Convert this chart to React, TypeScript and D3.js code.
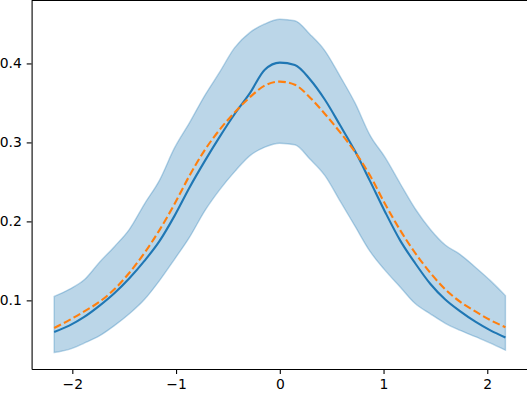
import React, { useEffect, useRef } from 'react';
import * as d3 from 'd3';

// sample positions
const xs = [-2.175, -2.03, -1.885, -1.74, -1.595, -1.45, -1.305, -1.16, -1.015, -0.87, -0.725, -0.58, -0.435, -0.29, -0.145, 0,
  0.145, 0.29, 0.435, 0.58, 0.725, 0.87, 1.015, 1.16, 1.305, 1.45, 1.595, 1.74, 1.885, 2.03, 2.175];

// solid blue mean line
const meanVals = [0.060, 0.068, 0.079, 0.093, 0.109, 0.128, 0.150, 0.175, 0.207, 0.243, 0.276, 0.307, 0.336, 0.362, 0.392, 0.401,
  0.398, 0.380, 0.354, 0.322, 0.289, 0.251, 0.212, 0.176, 0.147, 0.121, 0.101, 0.086, 0.073, 0.062, 0.053];

// dashed orange curve
const refVals = [0.065, 0.075, 0.086, 0.098, 0.114, 0.135, 0.160, 0.189, 0.222, 0.258, 0.290, 0.316, 0.338, 0.357, 0.372, 0.377,
  0.373, 0.357, 0.336, 0.313, 0.288, 0.258, 0.222, 0.189, 0.160, 0.135, 0.114, 0.098, 0.086, 0.075, 0.066];

// shaded band
const upperVals = [0.105, 0.114, 0.126, 0.148, 0.168, 0.190, 0.222, 0.252, 0.293, 0.325, 0.359, 0.389, 0.420, 0.439, 0.450, 0.456,
  0.454, 0.437, 0.416, 0.384, 0.350, 0.309, 0.281, 0.248, 0.216, 0.190, 0.170, 0.158, 0.142, 0.125, 0.106];
const lowerVals = [0.034, 0.038, 0.046, 0.055, 0.068, 0.083, 0.101, 0.125, 0.152, 0.180, 0.213, 0.240, 0.263, 0.283, 0.294, 0.299,
  0.297, 0.279, 0.258, 0.226, 0.194, 0.162, 0.138, 0.117, 0.096, 0.083, 0.071, 0.062, 0.054, 0.046, 0.037];

const xTicks = [-2, -1, 0, 1, 2];
const yTicks = [0.1, 0.2, 0.3, 0.4];

export default function App() {
  const svgRef = useRef<SVGSVGElement>(null);

  useEffect(() => {
    const svg = d3.select(svgRef.current);
    svg.selectAll('*').remove();

    const left = 31.6, right = 528, top = 0.5, bottom = 369;

    const x = d3.scaleLinear().domain([-2.3925, 2.3925]).range([left, right]);
    const y = d3.scaleLinear().domain([0.0131, 0.4797]).range([bottom, top]);

    const rows = xs.map((v, i) => ({ x: v, m: meanVals[i], r: refVals[i], lo: lowerVals[i], hi: upperVals[i] }));

    const band = d3.area<any>().x(d => x(d.x)).y0(d => y(d.lo)).y1(d => y(d.hi)).curve(d3.curveMonotoneX);
    svg.append('path').datum(rows).attr('d', band)
      .attr('fill', '#1f77b4').attr('fill-opacity', 0.3)
      .attr('stroke', '#1f77b4').attr('stroke-opacity', 0.3).attr('stroke-width', 1.4);

    const meanLine = d3.line<any>().x(d => x(d.x)).y(d => y(d.m)).curve(d3.curveMonotoneX);
    svg.append('path').datum(rows).attr('d', meanLine)
      .attr('fill', 'none').attr('stroke', '#1f77b4').attr('stroke-width', 2.1);

    const refLine = d3.line<any>().x(d => x(d.x)).y(d => y(d.r)).curve(d3.curveMonotoneX);
    svg.append('path').datum(rows).attr('d', refLine)
      .attr('fill', 'none').attr('stroke', '#ff7f0e').attr('stroke-width', 2.1)
      .attr('stroke-dasharray', '7.7,3.3');

    // axes, matplotlib look
    const font = "'DejaVu Sans', sans-serif";
    const xAxis = svg.append('g').attr('transform', `translate(0,${bottom})`)
      .call(d3.axisBottom(x).tickValues(xTicks).tickSizeInner(4.9).tickSizeOuter(0).tickPadding(4.9).tickFormat(d3.format('d')));
    const yAxis = svg.append('g').attr('transform', `translate(${left},0)`)
      .call(d3.axisLeft(y).tickValues(yTicks).tickSizeInner(4.9).tickSizeOuter(0).tickPadding(4.9).tickFormat(d3.format('.1f')));
    [xAxis, yAxis].forEach(a => {
      a.selectAll('path').attr('stroke', '#000').attr('stroke-width', 1.1);
      a.selectAll('line').attr('stroke', '#000').attr('stroke-width', 1.1);
      a.selectAll('text').attr('fill', '#000').style('font-family', font).style('font-size', '13.9px');
    });
    svg.append('line').attr('x1', left).attr('x2', right).attr('y1', top).attr('y2', top)
      .attr('stroke', '#000').attr('stroke-width', 1.1);
  }, []);

  return (
    <svg ref={svgRef} width={527} height={393}
      style={{ position: 'absolute', left: 0, top: 0, background: '#fff' }} />
  );
}
